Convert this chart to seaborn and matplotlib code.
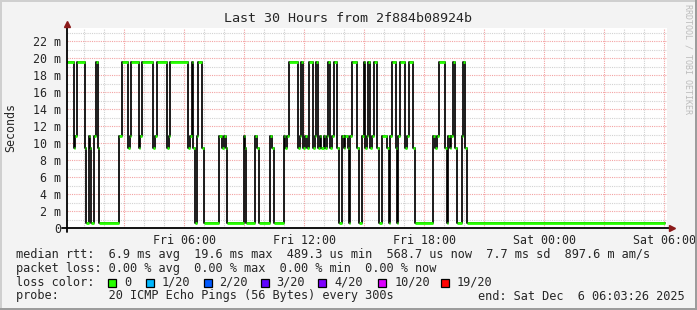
import numpy as np
import pandas as pd
import matplotlib
matplotlib.use("Agg")
import matplotlib.pyplot as plt
import seaborn as sns
from matplotlib.patches import Rectangle

# ---------------- data ----------------
# change points of the 5-minute median RTT (hours after Fri 00:00) and value (ms)
change_hours = [0.13, 0.47, 0.52, 0.62, 1.02, 1.10, 1.22, 1.26, 1.35, 1.50, 1.60, 1.67, 1.75,
                2.75, 2.89, 3.19, 3.26, 3.34, 3.72, 3.80, 3.89, 4.45, 4.52, 4.62, 5.12, 5.24,
                5.29, 6.20, 6.27, 6.37, 6.45, 6.54, 6.62, 6.70, 6.87, 6.99, 7.74, 7.90, 7.99,
                8.07, 8.14, 8.97, 9.05, 9.10, 9.52, 9.64, 9.74, 10.27, 10.39, 10.47, 10.97,
                11.05, 11.15, 11.22, 11.69, 11.76, 11.85, 11.94, 12.02, 12.14, 12.24, 12.45,
                12.51, 12.60, 12.70, 12.76, 12.84, 12.96, 13.04, 13.13, 13.20, 13.29, 13.39,
                13.47, 13.62, 13.75, 13.87, 13.97, 14.05, 14.17, 14.22, 14.29, 14.37, 14.62,
                14.72, 14.87, 14.97, 15.04, 15.14, 15.20, 15.27, 15.39, 15.47, 15.62, 15.72,
                15.87, 16.14, 16.22, 16.30, 16.39, 16.57, 16.62, 16.70, 16.77, 17.02, 17.12,
                17.23, 17.45, 17.54, 18.45, 18.54, 18.62, 18.73, 19.04, 19.12, 19.19, 19.26,
                19.35, 19.45, 19.52, 19.62, 19.87, 19.95, 20.02, 20.12, 30.05]
median_ms = [19.5, 9.4, 10.8, 19.5, 9.4, 0.6, 10.8, 9.4, 0.6, 10.8, 19.5, 9.4, 0.6,
             10.8, 19.5, 9.4, 10.8, 19.5, 9.4, 10.8, 19.5, 9.4, 10.8, 19.5, 9.4, 10.8,
             19.5, 9.4, 10.8, 19.5, 9.4, 0.6, 10.8, 19.5, 9.4, 0.6, 10.8, 9.4, 10.8,
             9.4, 0.6, 10.8, 9.4, 0.6, 10.8, 9.4, 0.6, 10.8, 9.4, 0.6, 10.8,
             9.4, 10.8, 19.5, 9.4, 10.8, 19.5, 9.4, 10.8, 9.4, 19.5, 9.4,
             10.8, 19.5, 9.4, 10.8, 9.4, 10.8, 9.4, 10.8, 19.5, 9.4, 10.8,
             19.5, 9.4, 0.6, 10.8, 9.4, 10.8, 9.4, 0.6, 10.8, 19.5, 9.4,
             0.6, 10.8, 19.5, 9.4, 10.8, 19.5, 9.4, 10.8, 19.5, 9.4, 0.6,
             10.8, 9.4, 0.6, 10.8, 19.5, 9.4, 0.6, 10.8, 19.5, 9.4, 10.8,
             19.5, 9.4, 0.6, 10.8, 9.4, 10.8, 19.5, 9.4, 0.6, 10.8, 9.4,
             10.8, 19.5, 9.4, 0.6, 10.8, 19.5, 9.4, 0.6, 0.6]

x_tick_hours = [6, 12, 18, 24, 30]
x_tick_labels = ["Fri 06:00", "Fri 12:00", "Fri 18:00", "Sat 00:00", "Sat 06:00"]
y_ticks = [0, 2, 4, 6, 8, 10, 12, 14, 16, 18, 20, 22]
y_tick_labels = ["0"] + [f"{v} m" for v in y_ticks[1:]]

loss_labels = ["0", "1/20", "2/20", "3/20", "4/20", "10/20", "19/20"]
loss_colors = ["#26ff00", "#00b8ff", "#0059ff", "#5e00ff", "#7e00ff", "#dd00ff", "#ff0000"]

title = "Last 30 Hours from 2f884b08924b"
line_rtt = "median rtt:  6.9 ms avg  19.6 ms max  489.3 us min  568.7 us now  7.7 ms sd  897.6 m am/s"
line_loss = "packet loss: 0.00 % avg  0.00 % max  0.00 % min  0.00 % now"
line_probe = "probe:       20 ICMP Echo Pings (56 Bytes) every 300s"
line_end = "end: Sat Dec  6 06:03:26 2025"

# ---------------- style ----------------
sns.set_style("white")
plt.rcParams["font.family"] = ["DejaVu Sans Mono"]
MONO = 8.4
LEG = 8.55

W, H = 697, 310
fig = plt.figure(figsize=(W / 100, H / 100), dpi=100, facecolor="#f3f3f3")

def fx(px):
    return px / W

def fy(py):
    return 1 - py / H

# frame border
fig.add_artist(Rectangle((0, fy(2)), 1, 2 / H, transform=fig.transFigure, color="#cfcfcf", lw=0))
fig.add_artist(Rectangle((0, 0), 2 / W, 1, transform=fig.transFigure, color="#cfcfcf", lw=0))
fig.add_artist(Rectangle((0, 0), 1, 2 / H, transform=fig.transFigure, color="#9c9c9c", lw=0))
fig.add_artist(Rectangle((1 - 2 / W, 0), 2 / W, 1, transform=fig.transFigure, color="#9c9c9c", lw=0))

ax = fig.add_axes([fx(67), fy(228.3), 600 / W, 200 / H])
ax.set_facecolor("white")
x0, x1 = 0.135, 30.135
ax.set_xlim(x0, x1)
ax.set_ylim(0, 23.5)
for s in ax.spines.values():
    s.set_visible(False)

# grid
dot = (0, (1, 1))
for h in range(1, 31):
    major = (h % 3 == 0)
    ax.axvline(h, color="#f3a3a3" if major else "#d2d2d2", lw=0.8, ls=dot, zorder=1)
for v in range(1, 24):
    major = (v % 2 == 0)
    ax.axhline(v, color="#f3a3a3" if major else "#d2d2d2", lw=0.8, ls=dot, zorder=1)

# data
df = pd.DataFrame({"hour": change_hours, "ms": median_ms})
sns.lineplot(data=df, x="hour", y="ms", drawstyle="steps-post", color="black",
             lw=1.25, estimator=None, sort=False, ax=ax, zorder=3)
ax.hlines(median_ms[:-1], change_hours[:-1], change_hours[1:], color="#26ff00",
          lw=2.0, zorder=4)

# ticks
ax.set_xticks(x_tick_hours)
ax.set_xticklabels(x_tick_labels, fontsize=MONO)
ax.set_yticks(y_ticks)
ax.set_yticklabels(y_tick_labels, fontsize=MONO)
ax.tick_params(axis="x", length=2, width=0.8, color="#888888", pad=2.0, direction="out")
ax.tick_params(axis="y", length=2, width=0.8, color="#888888", pad=2.4, direction="out")
ax.set_xlabel("")
ax.set_ylabel("")

# axis lines with arrows
ax.plot([-0.008, 1.004], [0, 0], transform=ax.transAxes, color="black", lw=1.3,
        clip_on=False, zorder=5)
ax.plot([0, 0], [-0.02, 1.02], transform=ax.transAxes, color="black", lw=1.3,
        clip_on=False, zorder=5)
ax.plot([1.008], [0], marker=">", ms=5, color="#8b1a1a", transform=ax.transAxes,
        clip_on=False, zorder=6)
ax.plot([0], [1.022], marker="^", ms=5, color="#8b1a1a", transform=ax.transAxes,
        clip_on=False, zorder=6)

# titles
fig.text(fx(348), fy(19), title, ha="center", va="center", fontsize=9.6)
fig.text(fx(11), fy(128), "Seconds", rotation=90, ha="center", va="center", fontsize=MONO)
fig.text(fx(688), fy(4), "RRDTOOL / TOBI OETIKER", rotation=-90, ha="center", va="top",
         fontsize=6.0, color="#bcbcbc")

# legend lines
fig.text(fx(16), fy(254.3), line_rtt, ha="left", va="center", fontsize=LEG)
fig.text(fx(16), fy(268.3), line_loss, ha="left", va="center", fontsize=LEG)
fig.text(fx(16), fy(282.3), "loss color:", ha="left", va="center", fontsize=LEG)
sq_x = [108, 146, 204, 261, 318, 378, 441]
lab_x = [124, 161.5, 219, 276.5, 334, 395, 457]
for sx, lx, lab, col in zip(sq_x, lab_x, loss_labels, loss_colors):
    fig.add_artist(Rectangle((fx(sx), fy(286.5)), 8 / W, 8 / H, transform=fig.transFigure,
                             facecolor=col, edgecolor="black", lw=0.9))
    fig.text(fx(lx), fy(282.3), lab, ha="left", va="center", fontsize=LEG)
fig.text(fx(16), fy(296), line_probe, ha="left", va="center", fontsize=LEG)
fig.text(fx(478), fy(296), line_end, ha="left", va="center", fontsize=LEG)

fig.savefig("out.png", dpi=100, facecolor=fig.get_facecolor())
